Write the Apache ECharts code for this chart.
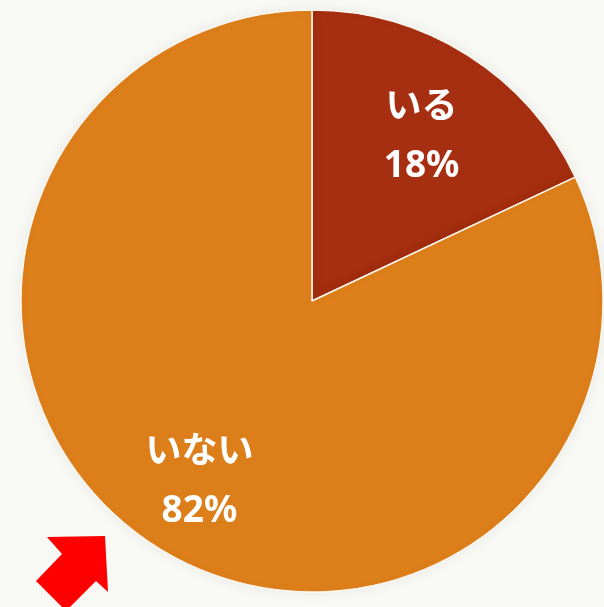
<!DOCTYPE html>
<html>
<head>
<meta charset="utf-8">
<script src="https://cdn.jsdelivr.net/npm/echarts@6/dist/echarts.min.js"></script>
<style>
  html, body { margin: 0; padding: 0; background: #f8f8f4; }
  #main { width: 604px; height: 607px; }
</style>
</head>
<body>
<div id="main"></div>
<script>
// データ
const names = ['いる', 'いない'];
const values = [18, 82];
const colors = ['#a52f10', '#dc7e1a'];
// ラベルのずらし量
const labelOffsets = [[30, -40], [-33, 54]];

const myChart = echarts.init(document.getElementById('main'));

const option = {
  backgroundColor: '#f8f8f4',
  animation: false,
  series: [
    {
      type: 'pie',
      center: [312, 301],
      radius: 291,
      startAngle: 90,
      clockwise: true,
      itemStyle: {
        borderColor: '#fdf6ee',
        borderWidth: 1.5,
        shadowBlur: 14,
        shadowColor: 'rgba(0,0,0,0.06)'
      },
      label: {
        show: true,
        position: 'inside',
        formatter: (p) => '{n|' + p.name + '}\n{v|' + p.value + '%}',
        rich: {
          n: {
            color: '#fff',
            fontFamily: 'Noto Sans CJK JP',
            fontWeight: 'bold',
            fontSize: 36,
            lineHeight: 62
          },
          v: {
            color: '#fff',
            fontFamily: 'Noto Sans',
            fontWeight: 'bold',
            fontSize: 37,
            lineHeight: 62
          }
        }
      },
      labelLine: { show: false },
      data: names.map((name, i) => ({
        name: name,
        value: values[i],
        itemStyle: { color: colors[i] },
        label: { offset: labelOffsets[i] }
      }))
    }
  ],
  graphic: [
    {
      // 赤い矢印
      type: 'polygon',
      shape: {
        points: [[47, 537], [105, 536], [108, 592], [96, 581], [66, 611], [36, 581], [62, 554]]
      },
      style: { fill: '#ff0000' }
    }
  ]
};
option && myChart.setOption(option);
window.addEventListener('resize', myChart.resize);
</script>
</body>
</html>
